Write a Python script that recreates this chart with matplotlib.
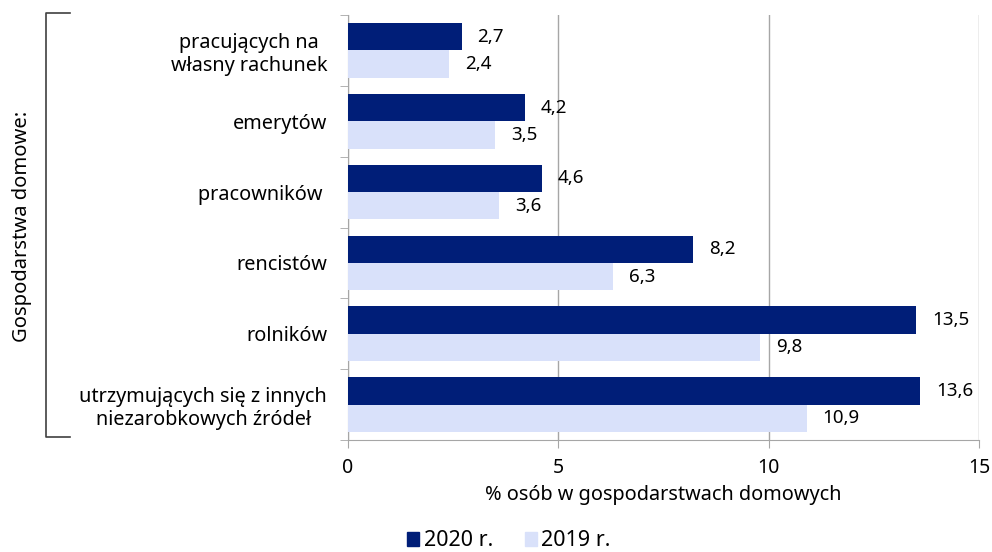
import matplotlib
matplotlib.use("Agg")
import matplotlib.pyplot as plt
from matplotlib.lines import Line2D
from matplotlib.patches import Patch
import numpy as np

plt.rcParams["font.family"] = ["Noto Sans", "DejaVu Sans"]
plt.rcParams["font.size"] = 14.3

# ── dane ─────────────────────────────────────────────────────────
categories = ["pracujących na\nwłasny rachunek", "emerytów", "pracowników ",
              "rencistów", "rolników", "utrzymujących się z innych\nniezarobkowych źródeł"]
v2020 = [2.7, 4.2, 4.6, 8.2, 13.5, 13.6]
v2019 = [2.4, 3.5, 3.6, 6.3, 9.8, 10.9]
series_labels = ["2020 r.", "2019 r."]
xticks = [0, 5, 10, 15]

DARK = "#001E78"
LIGHT = "#D9E1FA"
GRID = "#A6A6A6"

fig = plt.figure(figsize=(9.92, 5.52), dpi=100)
ax = fig.add_axes([348 / 992, 1 - 440 / 552, (979 - 348) / 992, (440 - 15) / 552])

y = np.arange(len(categories))
h = 0.385
ax.barh(y - h / 2, v2020, height=h, color=DARK, zorder=3)
ax.barh(y + h / 2, v2019, height=h, color=LIGHT, zorder=3)

for yi, a, b in zip(y, v2020, v2019):
    ax.text(a + 0.38, yi - h / 2, f"{a:.1f}".replace(".", ","), va="center", ha="left",
            fontsize=13.5, zorder=4)
    ax.text(b + 0.38, yi + h / 2, f"{b:.1f}".replace(".", ","), va="center", ha="left",
            fontsize=13.5, zorder=4)

ax.set_xlim(0, 15)
ax.set_ylim(len(categories) - 0.5, -0.5)
ax.set_xticks(xticks)
ax.set_xticklabels([str(t) for t in xticks], fontsize=14)
ax.xaxis.grid(True, color=GRID, linewidth=1, zorder=0)
ax.set_axisbelow(True)

# oś y: etykiety kategorii bez znaczników, znaczniki na granicach
ax.set_yticks(y)
ax.set_yticklabels(categories, multialignment="center")
ax.tick_params(axis="y", length=0, pad=15)
ax.set_yticks(np.arange(len(categories) + 1) - 0.5, minor=True)
ax.tick_params(axis="y", which="minor", length=6, color=GRID)
ax.tick_params(axis="x", length=6, color=GRID, pad=7)

for s in ["top", "right"]:
    ax.spines[s].set_visible(False)
for s in ["left", "bottom"]:
    ax.spines[s].set_color(GRID)

ax.set_xlabel("% osób w gospodarstwach domowych", labelpad=5)

# nawias i opis po lewej
bx0, bx1 = 46 / 992, 70 / 992
by0, by1 = 1 - 13 / 552, 1 - 437 / 552
fig.add_artist(Line2D([bx1, bx0, bx0, bx1], [by0, by0, by1, by1],
                      color="#404040", linewidth=1.2, transform=fig.transFigure,
                      solid_joinstyle="round"))
fig.text(22 / 992, 1 - 226 / 552, "Gospodarstwa domowe:", rotation=90,
         ha="center", va="center", fontsize=14.5)

handles = [Patch(color=DARK), Patch(color=LIGHT)]
fig.legend(handles, series_labels, loc="center", bbox_to_anchor=(509 / 992, 1 - 541 / 552),
           ncol=2, frameon=False, handlelength=0.55, handleheight=0.6,
           handletextpad=0.2, columnspacing=1.5, fontsize=15.5)

fig.savefig("out.png", dpi=100)
